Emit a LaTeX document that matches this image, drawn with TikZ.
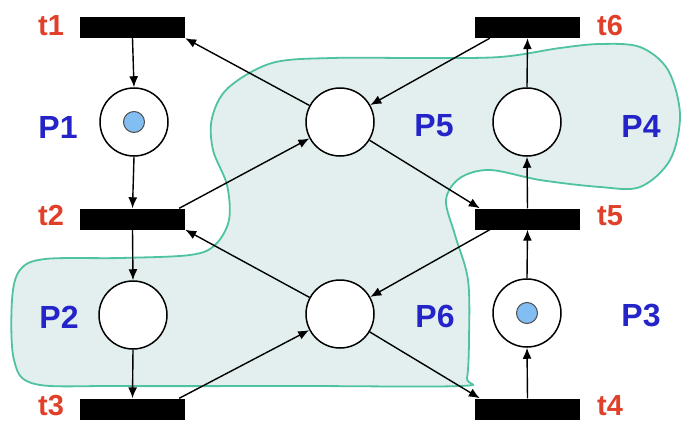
\documentclass[tikz,border=0pt]{standalone}
\usepackage{fontspec}
\setmainfont{Liberation Sans}
\usetikzlibrary{arrows.meta}
\definecolor{tred}{HTML}{E0402A}
\definecolor{pblue}{HTML}{2424C8}
\definecolor{tokblue}{HTML}{82BEF2}
\definecolor{blobfill}{HTML}{E2EFEE}
\definecolor{blobline}{HTML}{4FC3A1}
\tikzset{
  trans/.style={fill=black, minimum width=105pt, minimum height=21pt, inner sep=0pt, draw=none},
  place/.style={circle, draw=black, fill=white, line width=1.5pt, minimum size=68pt, inner sep=0pt},
  token/.style={circle, draw=black!70, fill=tokblue, minimum size=21pt, inner sep=0pt, line width=1pt},
  arc/.style={line width=1.4pt, -{Latex[length=11pt,width=9pt]}},
  tlab/.style={text=tred, font=\fontsize{29}{29}\selectfont\bfseries, inner sep=0pt},
  plab/.style={text=pblue, font=\fontsize{32}{32}\selectfont\bfseries, inner sep=0pt},
  blob/.style={fill=blobfill, draw=blobline, line width=1.8pt}
}
\begin{document}
\begin{tikzpicture}[x=1pt,y=-1pt]
\useasboundingbox (0,0) rectangle (683,423);
\fill[white] (0,0) rectangle (683,423);
% shaded region
\draw[blob] plot[smooth cycle, tension=0.55] coordinates {
 (272,63) (332,58) (420,58) (500,57) (560,48) (600,44) (640,47) (668,70) (680,115)
 (670,160) (640,187) (600,187) (540,180) (490,170) (460,178) (446,200) (455,235)
 (468,280) (469,340) (467,378) (460,386) (300,386) (120,386) (35,384) (14,360)
 (12,300) (20,270) (45,259) (120,258) (190,255) (215,245) (229,220) (227,185)
 (213,150) (212,118) (228,88)};
% transitions
\node[trans] (t1) at (132.5,27.5) {};
\node[trans] (t2) at (132.5,219) {};
\node[trans] (t3) at (132.5,409) {};
\node[trans] (t6) at (527.5,27.5) {};
\node[trans] (t5) at (527.5,219) {};
\node[trans] (t4) at (527.5,409) {};
% places
\node[place] (P1) at (134,122) {};
\node[place] (P2) at (133,315) {};
\node[place] (P5) at (340,122) {};
\node[place] (P6) at (340,314) {};
\node[place] (P4) at (527,122) {};
\node[place] (P3) at (527,313) {};
\node[token] (k1) at (P1) {};
\node[token] (k3) at (P3) {};
% labels
\node[tlab] (lt1) at (51,26) {t1};
\node[tlab] (lt2) at (51,216) {t2};
\node[tlab] (lt3) at (51,406) {t3};
\node[tlab] (lt6) at (610,26) {t6};
\node[tlab] (lt5) at (610,216) {t5};
\node[tlab] (lt4) at (610,406) {t4};
\node[plab] (lp1) at (58,127) {P1};
\node[plab] (lp2) at (59,317) {P2};
\node[plab] (lp5) at (434,126) {P5};
\node[plab] (lp6) at (435,316) {P6};
\node[plab] (lp4) at (641,126) {P4};
\node[plab] (lp3) at (641,316) {P3};
% arcs
\draw[arc] (t1.south) -- (P1.north);
\draw[arc] (P1.south) -- (t2.north);
\draw[arc] (t2.south) -- (P2.north);
\draw[arc] (P2.south) -- (t3.north);
\draw[arc] (t4.north) -- (P3.south);
\draw[arc] (P3.north) -- (t5.south);
\draw[arc] (t5.north) -- (P4.south);
\draw[arc] (P4.north) -- (t6.south);
\draw[arc] (P5) -- (t1.south east);
\draw[arc] ([xshift=-6pt]t2.north east) -- (P5);
\draw[arc] ([xshift=15pt]t6.south west) -- (P5);
\draw[arc] (P5) -- ([xshift=5pt]t5.north west);
\draw[arc] (P6) -- (t2.south east);
\draw[arc] ([xshift=-6pt]t3.north east) -- (P6);
\draw[arc] ([xshift=15pt]t5.south west) -- (P6);
\draw[arc] (P6) -- ([xshift=5pt]t4.north west);
\end{tikzpicture}
\end{document}
